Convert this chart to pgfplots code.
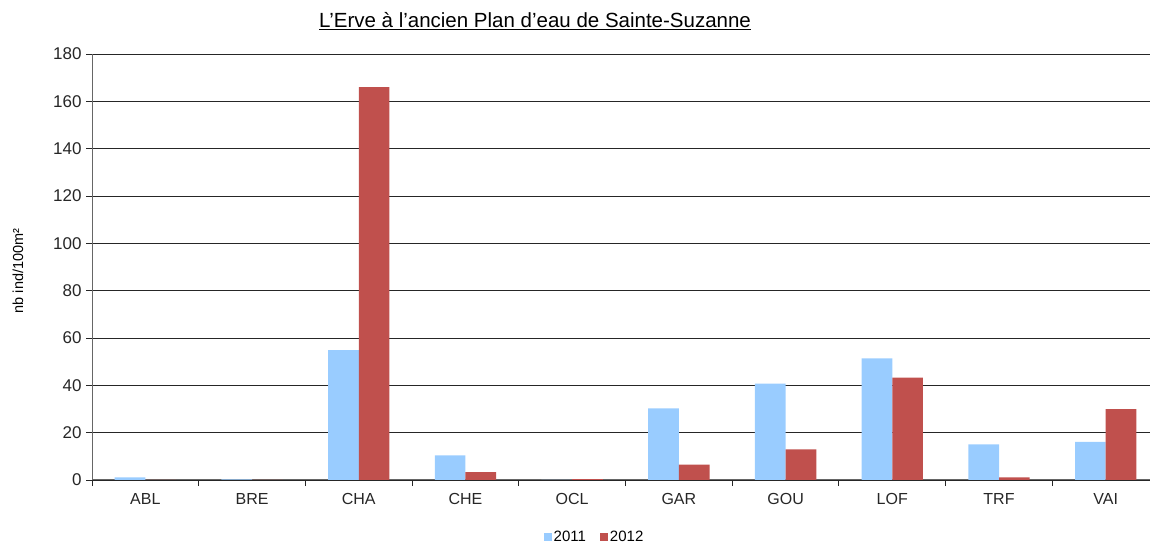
\documentclass[border=0pt]{standalone}
\usepackage{fontspec}
\setmainfont{Liberation Sans}
\usepackage{pgfplots}
\pgfplotsset{compat=1.18}
\definecolor{c2011}{RGB}{153,204,255}
\definecolor{c2012}{RGB}{192,80,77}
\begin{document}
\begin{tikzpicture}[x=1pt,y=1pt]
\useasboundingbox (0,0) rectangle (1150,543);
\begin{axis}[at={(92pt,63pt)}, anchor=south west, scale only axis,
  width=1058pt, height=426pt,
  xmin=-0.5, xmax=9.415, ymin=0, ymax=180,
  ybar=0pt, bar width=30.7pt,
  axis x line*=bottom, axis y line*=left,
  axis line style={black!60, line width=1pt},
  ytick={0,20,...,180}, ymajorgrids,
  grid style={black!85, line width=0.9pt},
  xtick={0,...,9},
  xticklabels={ABL,BRE,CHA,CHE,OCL,GAR,GOU,LOF,TRF,VAI},
  minor xtick={-0.5,0.5,...,9.5},
  tick align=outside,
  major tick length=6pt, minor tick length=6pt,
  major x tick style={draw=none},
  minor x tick style={black!85, line width=0.9pt},
  ytick style={black!85, line width=0.9pt},
  /pgf/number format/assume math mode=true,
  xticklabel style={font=\fontsize{16}{16}\selectfont, text=black!85, yshift=-4pt},
  yticklabel style={font=\fontsize{17}{17}\selectfont, text=black!85, xshift=-1pt},
  legend columns=2,
  legend style={draw=none, at={(0.475,-0.134)}, anchor=center,
    font=\fontsize{15}{15}\selectfont,
    /tikz/every even column/.append style={column sep=12pt}},
  legend image code/.code={\fill[#1, draw=none] (0pt,-4pt) rectangle (8pt,4pt);},
]
\addplot[fill=c2011, draw=none] coordinates {(0,1.1) (1,0.3) (2,54.9) (3,10.4) (4,0) (5,30.3) (6,40.7) (7,51.4) (8,15.0) (9,16.1)};
\addplot[fill=c2012, draw=none] coordinates {(0,0) (1,0) (2,166) (3,3.3) (4,0.4) (5,6.5) (6,12.9) (7,43.3) (8,1.1) (9,29.9)};
\legend{2011,2012}
\end{axis}
\node at (535,522) {\fontsize{20.5}{20.5}\selectfont\underline{L'Erve à l'ancien Plan d'eau de Sainte-Suzanne}};
\node[rotate=90] at (18,272) {\fontsize{14.5}{14.5}\selectfont nb ind/100m²};
\end{tikzpicture}
\end{document}
